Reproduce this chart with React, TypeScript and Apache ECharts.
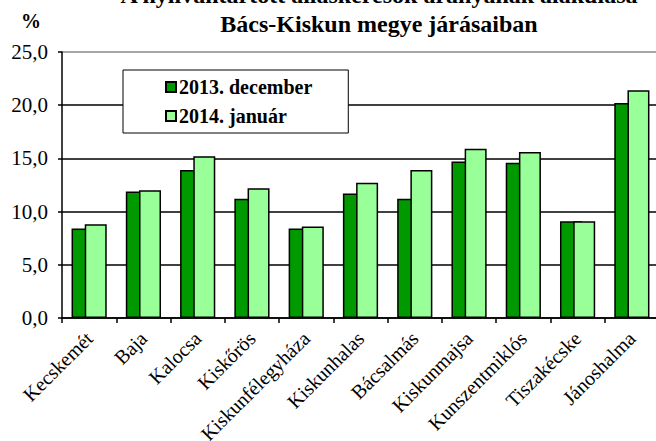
import React, { useEffect, useRef } from "react";
import * as echarts from "echarts";

const categories = [
  "Kecskemét",
  "Baja",
  "Kalocsa",
  "Kiskőrös",
  "Kiskunfélegyháza",
  "Kiskunhalas",
  "Bácsalmás",
  "Kiskunmajsa",
  "Kunszentmiklós",
  "Tiszakécske",
  "Jánoshalma",
];
const dec2013 = [8.4, 11.9, 13.9, 11.2, 8.4, 11.7, 11.2, 14.7, 14.6, 9.1, 20.2];
const jan2014 = [8.8, 12.0, 15.2, 12.2, 8.6, 12.7, 13.9, 15.9, 15.6, 9.1, 21.4];
const seriesNames = ["2013. december", "2014. január"];
const titleLines = [
  "A nyilvántartott álláskeresők arányának alakulása",
  "Bács-Kiskun megye járásaiban",
];
const yUnit = "%";

const FONT = "Liberation Serif, serif";

export default function App() {
  const ref = useRef<HTMLDivElement>(null);
  useEffect(() => {
    if (!ref.current) return;
    const chart = echarts.init(ref.current, null, { renderer: "svg" });
    chart.setOption({
      animation: false,
      backgroundColor: "#fff",
      textStyle: { fontFamily: FONT, color: "#000" },
      graphic: [
        {
          type: "text",
          x: 379,
          y: -17,
          style: {
            text: titleLines[0],
            align: "center",
            verticalAlign: "top",
            fontFamily: FONT,
            fontWeight: "bold",
            fontSize: 24,
            fill: "#000",
          },
        },
        {
          type: "text",
          x: 379,
          y: 12,
          style: {
            text: titleLines[1],
            align: "center",
            verticalAlign: "top",
            fontFamily: FONT,
            fontWeight: "bold",
            fontSize: 24,
            fill: "#000",
          },
        },
        {
          type: "text",
          x: 21,
          y: 11,
          style: {
            text: yUnit,
            verticalAlign: "top",
            fontFamily: FONT,
            fontWeight: "bold",
            fontSize: 20,
            fill: "#000",
          },
        },
      ],
      legend: {
        orient: "vertical",
        left: 123,
        top: 70,
        backgroundColor: "#fff",
        borderColor: "#000",
        borderWidth: 1,
        padding: [7, 36, 7, 42],
        itemGap: 9,
        itemWidth: 10,
        itemHeight: 10,
        icon: "rect",
        data: seriesNames,
        textStyle: {
          fontFamily: FONT,
          fontWeight: "bold",
          fontSize: 20,
          color: "#000",
          padding: [0, 0, 0, -2],
        },
      },
      grid: {
        left: 62,
        top: 52,
        width: 597,
        height: 266,
        containLabel: false,
        outerBoundsMode: "none",
      },
      xAxis: {
        type: "category",
        data: categories,
        axisLine: { lineStyle: { color: "#000", width: 1.5 } },
        axisTick: { show: true, interval: 0, length: 5, lineStyle: { color: "#000", width: 1.5 } },
        axisLabel: {
          interval: 0,
          rotate: 45,
          margin: 17,
          fontFamily: FONT,
          fontSize: 20,
          color: "#000",
          hideOverlap: false,
        },
      },
      yAxis: {
        type: "value",
        min: 0,
        max: 25,
        interval: 5,
        axisLine: { show: true, lineStyle: { color: "#000", width: 1.5 } },
        axisTick: { show: true, length: 4, lineStyle: { color: "#000", width: 1.5 } },
        axisLabel: {
          margin: 14,
          fontFamily: FONT,
          fontSize: 21,
          color: "#000",
          formatter: (v: number) => v.toFixed(1).replace(".", ","),
        },
        splitLine: {
          show: true,
          lineStyle: {
            color: ["#000", "#000", "#000", "#000", "#000", "#888"],
            width: 1.5,
          },
        },
      },
      series: [
        {
          name: seriesNames[0],
          type: "bar",
          data: dec2013,
          barWidth: 22,
          barGap: "-40%",
          itemStyle: { color: "#009900", borderColor: "#000", borderWidth: 1.5 },
        },
        {
          name: seriesNames[1],
          type: "bar",
          data: jan2014,
          barWidth: 22,
          barGap: "-40%",
          itemStyle: { color: "#99FF99", borderColor: "#000", borderWidth: 1.5 },
        },
      ],
    });
    return () => chart.dispose();
  }, []);
  return <div ref={ref} style={{ width: 656, height: 441, position: "absolute", left: 0, top: 0 }} />;
}
